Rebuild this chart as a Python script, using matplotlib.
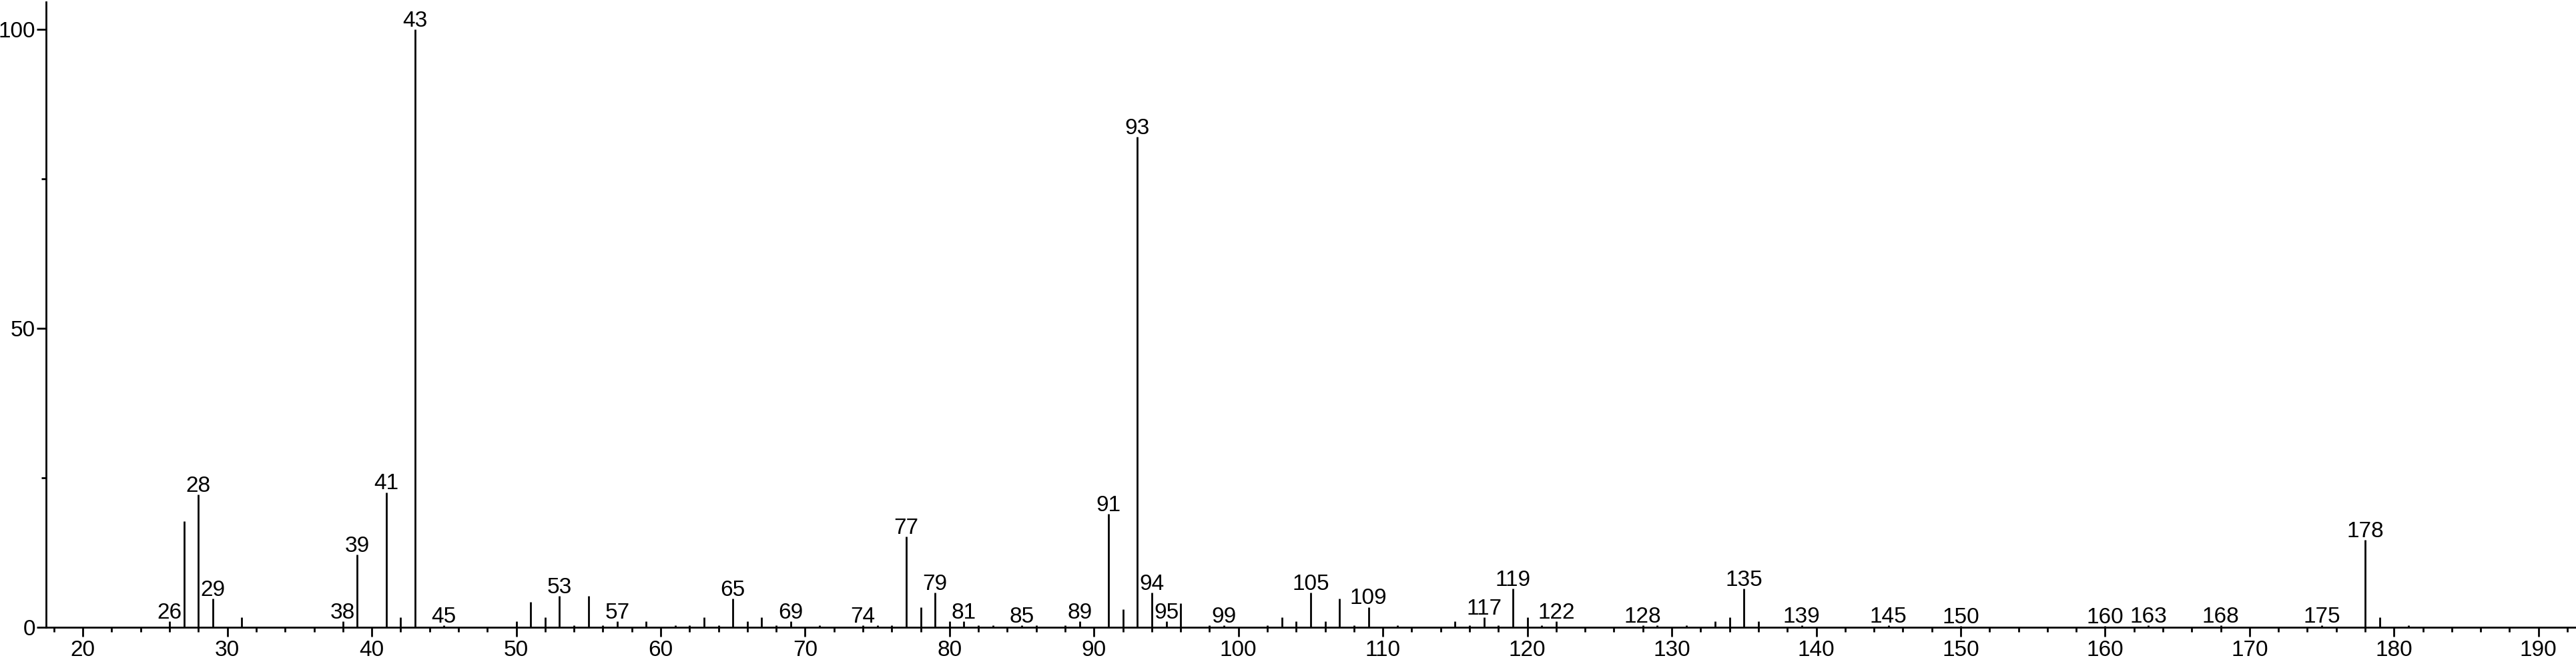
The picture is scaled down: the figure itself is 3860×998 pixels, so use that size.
import matplotlib
matplotlib.use("Agg")
import matplotlib.pyplot as plt
from matplotlib.ticker import MultipleLocator

plt.rcParams['font.family'] = ['Liberation Sans', 'DejaVu Sans']

mz = [26, 27, 28, 29, 31, 38, 39, 41, 42, 43, 45, 50, 51, 52, 53, 54, 55, 56, 57, 59,
      61, 62, 63, 64, 65, 66, 67, 68, 69, 71, 74, 75, 76, 77, 78, 79, 80, 81, 82, 83,
      85, 86, 88, 89, 91, 92, 93, 94, 95, 96, 98, 99, 102, 103, 104, 105, 106, 107, 108, 109,
      111, 115, 116, 117, 118, 119, 120, 121, 122, 128, 129, 131, 133, 134, 135, 136, 139, 145, 150, 160,
      163, 168, 175, 178, 179, 181]
intensity = [1.0, 17.7, 22.2, 4.8, 1.7, 1.0, 12.2, 22.6, 1.7, 100.0, 0.3, 1.0, 4.2, 1.7, 5.2, 0.3, 5.2, 0.3, 1.0, 1.0,
             0.3, 0.3, 1.7, 0.3, 4.8, 1.0, 1.7, 0.3, 1.0, 0.3, 0.3, 0.3, 0.3, 15.2, 3.4, 5.8, 1.0, 1.0, 0.3, 0.3,
             0.3, 0.3, 0.3, 1.0, 19.0, 3.0, 82.0, 5.8, 1.0, 4.0, 0.3, 0.3, 0.3, 1.7, 1.0, 5.8, 1.0, 4.8, 0.3, 3.4,
             0.3, 1.0, 0.3, 1.7, 0.3, 6.5, 1.7, 0.3, 1.0, 0.3, 0.3, 0.3, 1.0, 1.7, 6.5, 1.0, 0.3, 0.3, 0.2, 0.2,
             0.3, 0.3, 0.3, 14.6, 1.7, 0.3]
labeled = [26, 28, 29, 38, 39, 41, 43, 45, 53, 57, 65, 69, 74, 77, 79, 81, 85, 89, 91, 93,
           94, 95, 99, 105, 109, 117, 119, 122, 128, 135, 139, 145, 150, 160, 163, 168, 175, 178]
xticks = [20, 30, 40, 50, 60, 70, 80, 90, 100, 110, 120, 130, 140, 150, 160, 170, 180, 190]
yticks = [0, 50, 100]

W, H = 3860, 998
fig = plt.figure(figsize=(W / 100, H / 100), dpi=100)
ax = fig.add_axes([69 / W, 58 / H, (W - 69) / W, 937 / H])

ax.vlines(mz, 0, intensity, colors='black', linewidth=2.0)

lookup = dict(zip(mz, intensity))
for m in labeled:
    ax.annotate(str(m), xy=(m, lookup[m]), xytext=(0, 3), textcoords='offset points',
                ha='center', va='baseline', fontsize=24, color='black', clip_on=False)

ax.set_xlim(17.45, 192.6)
ax.set_ylim(0, 104.6)
ax.set_xticks(xticks)
ax.set_yticks(yticks)
ax.xaxis.set_minor_locator(MultipleLocator(2))
ax.yaxis.set_minor_locator(MultipleLocator(25))

for s in ['top', 'right']:
    ax.spines[s].set_visible(False)
for s in ['left', 'bottom']:
    ax.spines[s].set_linewidth(2.0)

ax.tick_params(axis='x', which='major', direction='out', length=10, width=2, labelsize=24, pad=4)
ax.tick_params(axis='x', which='minor', direction='out', length=5, width=2)
ax.tick_params(axis='y', which='major', direction='out', length=10, width=2, labelsize=24, pad=1.5)
ax.tick_params(axis='y', which='minor', direction='out', length=5, width=2)

fig.savefig('out.png', dpi=100, facecolor='white')
